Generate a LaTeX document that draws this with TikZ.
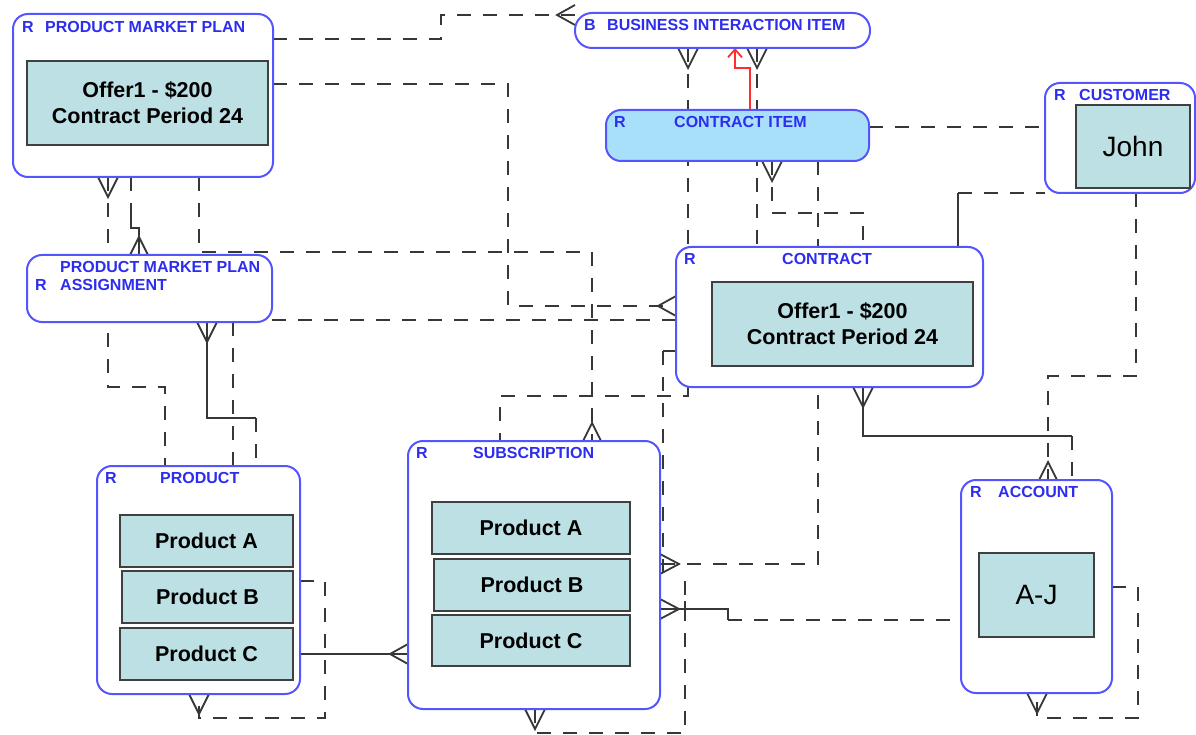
\documentclass[tikz,border=0pt]{standalone}
\usepackage{fontspec}
\setmainfont{Liberation Sans}
\usetikzlibrary{calc,arrows.meta}
\pgfdeclarelayer{bg}
\pgfsetlayers{bg,main}
\definecolor{entblue}{RGB}{85,85,255}
\definecolor{titleblue}{RGB}{45,45,240}
\definecolor{boxfill}{RGB}{188,224,228}
\definecolor{cifill}{RGB}{168,224,250}
\definecolor{linegray}{RGB}{55,55,55}
\definecolor{relred}{RGB}{255,45,45}
\tikzset{
  ent/.style={draw=entblue, line width=2pt, fill=white, rounded corners=15pt, inner sep=0pt, outer sep=0pt, anchor=north west},
  valbox/.style={draw=black!75, line width=1.5pt, fill=boxfill, inner sep=0pt, outer sep=0pt, anchor=north west, font=\bfseries\fontsize{21.5}{26}\selectfont, align=center, text=black},
  plainval/.style={valbox, font=\fontsize{28}{32}\selectfont},
  ttl/.style={text=titleblue, font=\bfseries\fontsize{16}{18}\selectfont, inner sep=0pt, anchor=west},
  rel/.style={draw=linegray, line width=2pt, dash pattern=on 14pt off 12pt},
  solidrel/.style={draw=linegray, line width=1.8pt},
  foot/.style={draw=linegray, line width=1.8pt, line join=miter},
  redrel/.style={draw=relred, line width=1.8pt, -{Straight Barb[length=8pt,width=14pt]}}
}
\newcommand\cfS[1]{\draw[foot] ($(#1)+(-10,0)$) -- ($(#1)+(0,20)$) -- ($(#1)+(10,0)$);}
\newcommand\cfN[1]{\draw[foot] ($(#1)+(-9,0)$) -- ($(#1)+(0,-18)$) -- ($(#1)+(9,0)$);}
\newcommand\cfW[1]{\draw[foot] ($(#1)+(0,-10)$) -- ($(#1)+(-18,0)$) -- ($(#1)+(0,10)$);}
\newcommand\cfE[1]{\draw[foot] ($(#1)+(0,-10)$) -- ($(#1)+(19,0)$) -- ($(#1)+(0,10)$);}
\begin{document}
\begin{tikzpicture}[x=1pt,y=-1pt]
\useasboundingbox (0,0) rectangle (1196,735);
\begin{pgfonlayer}{bg}
\fill[white] (0,0) rectangle (1196,735);
\end{pgfonlayer}

% ---------- entities ----------
\node[ent, minimum width=260pt, minimum height=163pt] (pmp) at (13,14) {};
\node[valbox, minimum width=241pt, minimum height=84pt] (pmpval) at (27,61) {Offer1 - \$200\\Contract Period 24};
\node[ttl] (pmpR) at (22,27) {R};
\node[ttl] (pmpT) at (45,27) {PRODUCT MARKET PLAN};

\node[ent, rounded corners=17pt, minimum width=295pt, minimum height=35pt] (bii) at (575,13) {};
\node[ttl] (biiB) at (584,25) {B};
\node[ttl] (biiT) at (607,25) {BUSINESS INTERACTION ITEM};

\node[ent, fill=cifill, minimum width=263pt, minimum height=51pt] (ci) at (606,110) {};
\node[ttl] (ciR) at (614,122) {R};
\node[ttl] (ciT) at (674,122) {CONTRACT ITEM};

\node[ent, minimum width=150pt, minimum height=110pt] (cust) at (1045,83) {};
\node[plainval, minimum width=114pt, minimum height=83pt] (custval) at (1076,105) {John};
\node[ttl] (custR) at (1054,95) {R};
\node[ttl] (custT) at (1079,95) {CUSTOMER};

\node[ent, minimum width=245pt, minimum height=67pt] (pmpa) at (27,255) {};
\node[ttl] (pmpaT1) at (60,267) {PRODUCT MARKET PLAN};
\node[ttl] (pmpaR) at (35,285) {R};
\node[ttl] (pmpaT2) at (60,285) {ASSIGNMENT};

\node[ent, minimum width=307pt, minimum height=140pt] (contract) at (676,247) {};
\node[valbox, minimum width=261pt, minimum height=84pt] (conval) at (712,282) {Offer1 - \$200\\Contract Period 24};
\node[ttl] (conR) at (684,259) {R};
\node[ttl] (conT) at (782,259) {CONTRACT};

\node[ent, minimum width=203pt, minimum height=228pt] (product) at (97,466) {};
\node[valbox, minimum width=173pt, minimum height=52pt] (pa) at (120,515) {Product A};
\node[valbox, minimum width=171pt, minimum height=52pt] (pb) at (122,571) {Product B};
\node[valbox, minimum width=173pt, minimum height=52pt] (pc) at (120,628) {Product C};
\node[ttl] (prodR) at (105,478) {R};
\node[ttl] (prodT) at (160,478) {PRODUCT};

\node[ent, minimum width=252pt, minimum height=268pt] (sub) at (408,441) {};
\node[valbox, minimum width=198pt, minimum height=52pt] (sa) at (432,502) {Product A};
\node[valbox, minimum width=196pt, minimum height=52pt] (sb) at (434,559) {Product B};
\node[valbox, minimum width=198pt, minimum height=51pt] (sc) at (432,615) {Product C};
\node[ttl] (subR) at (416,453) {R};
\node[ttl] (subT) at (473,453) {SUBSCRIPTION};

\node[ent, minimum width=151pt, minimum height=213pt] (acc) at (961,480) {};
\node[plainval, minimum width=115pt, minimum height=84pt] (accval) at (979,553) {A-J};
\node[ttl] (accR) at (970,492) {R};
\node[ttl] (accT) at (998,492) {ACCOUNT};

% ---------- connectors ----------
\begin{pgfonlayer}{bg}
% PMP -> BII
\draw[rel] (pmp.east |- 0,39) -- (441,39) -- (441,15) -- (bii.west |- 0,15);
\cfW{bii.west |- 0,15}
% PMP -> CONTRACT
\draw[rel] (pmp.east |- 0,84) -- (508,84) -- (508,306) -- (contract.west |- 0,306);
\cfW{contract.west |- 0,306}
% PMP -> PRODUCT
\draw[rel] (pmp.south -| 108,0) -- (108,387) -- (165,387) -- (product.north -| 165,0);
\cfS{pmp.south -| 108,0}
% PMP -> PMPA
\draw[rel] (pmp.south -| 131,0) -- (131,205);
\draw[solidrel] (131,205) -- (131,228) -- (139,228) -- (pmpa.north -| 139,0);
\cfN{pmpa.north -| 139,0}
% PMP -> SUBSCRIPTION
\draw[rel] (pmp.south -| 199,0) -- (199,252) -- (592,252) -- (sub.north -| 592,0);
\cfN{sub.north -| 592,0}
% PMPA -> CONTRACT
\draw[rel] (pmpa.east |- 0,320) -- (contract.west |- 0,320);
% PMPA -> PRODUCT
\draw[solidrel] (pmpa.south -| 207,0) -- (207,418) -- (256,418);
\draw[rel] (256,418) -- (product.north -| 256,0);
\cfS{pmpa.south -| 207,0}
\draw[rel] (pmpa.south -| 233,0) -- (product.north -| 233,0);
% BII -> CONTRACT
\draw[rel] (bii.south -| 688,0) -- (contract.north -| 688,0);
\cfS{bii.south -| 688,0}
\draw[rel] (bii.south -| 757,0) -- (contract.north -| 757,0);
\cfS{bii.south -| 757,0}
% CONTRACT ITEM -> BII (red)
\draw[redrel] (ci.north -| 750,0) -- (750,68) -- (735,68) -- (bii.south -| 735,0);
% CONTRACT ITEM -> CUSTOMER
\draw[rel] (ci.east |- 0,127) -- (cust.west |- 0,127);
% CONTRACT ITEM -> CONTRACT
\draw[rel] (ci.south -| 772,0) -- (772,213) -- (863,213) -- (contract.north -| 863,0);
\cfS{ci.south -| 772,0}
\draw[rel] (ci.south -| 818,0) -- (818,564) -- (sub.east |- 0,564);
\cfE{sub.east |- 0,564}
% CONTRACT -> CUSTOMER
\draw[solidrel] (contract.north -| 958,0) -- (958,193);
\draw[rel] (958,193) -- (cust.south west);
% CUSTOMER -> ACCOUNT
\draw[rel] (cust.south -| 1136,0) -- (1136,376) -- (1048,376) -- (acc.north -| 1048,0);
\cfN{acc.north -| 1048,0}
% CONTRACT -> ACCOUNT
\draw[solidrel] (contract.south -| 863,0) -- (863,436) -- (1072,436);
\draw[rel] (1072,436) -- (acc.north -| 1072,0);
\cfS{contract.south -| 863,0}
% CONTRACT -> SUBSCRIPTION
\draw[solidrel] (contract.west |- 0,351) -- (663,351);
\draw[rel] (663,351) -- (663,575);
\draw[rel] (contract.south -| 688,0) -- (688,396) -- (500,396) -- (sub.north -| 500,0);
% SUBSCRIPTION -> ACCOUNT
\draw[solidrel] (sub.east |- 0,609) -- (728,609) -- (728,620);
\draw[rel] (728,620) -- (acc.west |- 0,620);
\cfE{sub.east |- 0,609}
\draw[solidrel] (685,601) -- (685,617);
% SUBSCRIPTION self
\draw[rel] (sub.south -| 535,0) -- (535,733) -- (685,733) -- (685,577);
\cfS{sub.south -| 535,0}
% PRODUCT self
\draw[rel] (product.east |- 0,581) -- (325,581) -- (325,718) -- (199,718) -- (product.south -| 199,0);
\cfS{product.south -| 199,0}
% PRODUCT -> SUBSCRIPTION
\draw[solidrel] (product.east |- pc.east) -- (sub.west |- pc.east);
\cfW{sub.west |- pc.east}
% ACCOUNT self
\draw[rel] (acc.east |- 0,587) -- (1138,587) -- (1138,718) -- (1037,718) -- (acc.south -| 1037,0);
\cfS{acc.south -| 1037,0}
\end{pgfonlayer}
\end{tikzpicture}
\end{document}
